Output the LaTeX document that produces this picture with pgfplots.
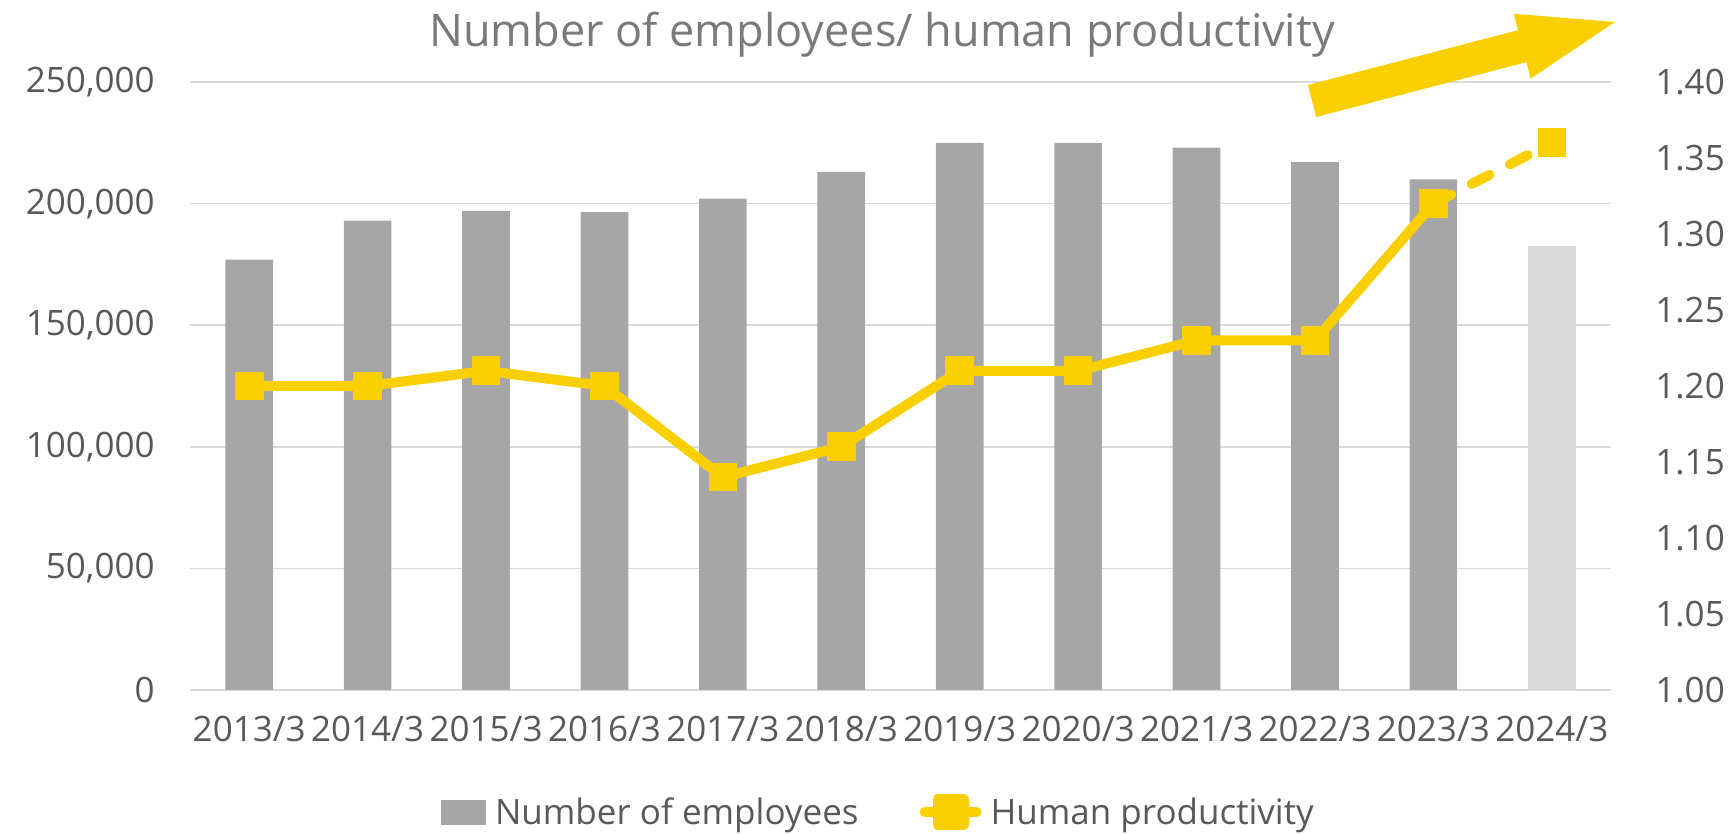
\documentclass[border=0pt]{standalone}
\usepackage{pgfplots}
\pgfplotsset{compat=1.18}
\usepackage{fontspec}
\setmainfont{Open Sans}
\definecolor{bargray}{HTML}{A6A6A6}
\definecolor{barlight}{HTML}{D9D9D9}
\definecolor{gold}{HTML}{FACF00}
\definecolor{txt}{HTML}{595959}
\definecolor{gridc}{HTML}{D9D9D9}
\definecolor{titlec}{HTML}{7A7A7A}

\pgfplotstableread{
x emp
0 177000
1 193000
2 197000
3 196500
4 202000
5 213000
6 225000
7 225000
8 223000
9 217000
10 210000
}\emptable
\pgfplotstableread{
x prod
0 1.20
1 1.20
2 1.21
3 1.20
4 1.14
5 1.16
6 1.21
7 1.21
8 1.23
9 1.23
10 1.32
}\prodtable

\begin{document}
\begin{tikzpicture}
\path[use as bounding box] (-95pt,-72pt) rectangle (773pt,345pt);
\begin{axis}[
  at={(0,0)}, anchor=south west,
  scale only axis, width=710.5pt, height=304pt,
  xmin=-0.5, xmax=11.5, ymin=0, ymax=250000,
  xtick={0,...,11},
  xticklabels={2013/3,2014/3,2015/3,2016/3,2017/3,2018/3,2019/3,2020/3,2021/3,2022/3,2023/3,2024/3},
  ytick={0,50000,100000,150000,200000,250000},
  scaled y ticks=false,
  /pgf/number format/.cd, fixed, 1000 sep={,}, assume math mode=true, /pgfplots/.cd,
  major tick length=0pt,
  axis line style={draw=none},
  ymajorgrids, major grid style={gridc, line width=0.8pt},
  tick label style={font=\fontsize{17.5}{21}\selectfont, text=txt},
  yticklabel style={anchor=east, inner sep=0pt, xshift=-17.5pt},
  xticklabel style={anchor=north, inner sep=0pt, yshift=-13pt},
]
\addplot[ybar, bar width=23.8pt, bar shift=0pt, fill=bargray, draw=none] table[x=x, y=emp] {\emptable};
\addplot[ybar, bar width=23.8pt, bar shift=0pt, fill=barlight, draw=none] coordinates {(11,182500)};
\end{axis}
\begin{axis}[
  at={(0,0)}, anchor=south west,
  scale only axis, width=710.5pt, height=304pt,
  xmin=-0.5, xmax=11.5, ymin=1, ymax=1.4,
  hide x axis,
  ytick={1,1.05,...,1.41},
  yticklabel pos=right,
  /pgf/number format/.cd, fixed, fixed zerofill, precision=2, assume math mode=true, /pgfplots/.cd,
  major tick length=0pt,
  axis line style={draw=none},
  tick label style={font=\fontsize{17.5}{21}\selectfont, text=txt},
  yticklabel style={anchor=west, inner sep=0pt, xshift=22pt},
  clip=false,
  legend style={draw=none, fill=none, at={(0.487,-0.201)}, anchor=center,
    font=\fontsize{17.5}{21}\selectfont, text=txt,
    nodes={inner xsep=4.5pt},
    /tikz/every even column/.append style={column sep=26pt}},
  legend columns=2,
]
\addlegendimage{legend image code/.code={\fill[bargray] (0pt,-6pt) rectangle (22pt,6pt);}}
\addlegendentry{Number of employees}
\addplot[gold, line width=5pt, line join=round, mark=square*, mark size=6.9pt,
  mark options={solid, line width=0pt, fill=gold, draw=gold},
  legend image code/.code={\draw[gold, line width=5pt, line cap=round] (0pt,0pt) -- (26pt,0pt);
    \fill[gold] (6.5pt,-6.5pt) rectangle (19.5pt,6.5pt);}]
  table[x=x, y=prod] {\prodtable};
\addlegendentry{Human productivity}
\addplot[forget plot, gold, line width=5pt, line cap=round, dash pattern=on 10pt off 11.5pt,
  mark=square*, mark size=6.9pt, mark options={solid, line width=0pt, fill=gold, draw=gold}, mark indices={2}]
  coordinates {(10,1.32) (11,1.36)};
\end{axis}
\fill[gold] (558.9pt,302.5pt) -- (664.0pt,329.9pt) -- (661.9pt,338.1pt) -- (712.5pt,334pt)
  -- (670.3pt,305.7pt) -- (668.2pt,313.9pt) -- (563.1pt,286.5pt) -- cycle;
\node[anchor=base, font=\fontsize{22.5}{27}\selectfont, text=titlec] at (346pt,321.75pt)
  {Number of employees/ human productivity};
\end{tikzpicture}
\end{document}
